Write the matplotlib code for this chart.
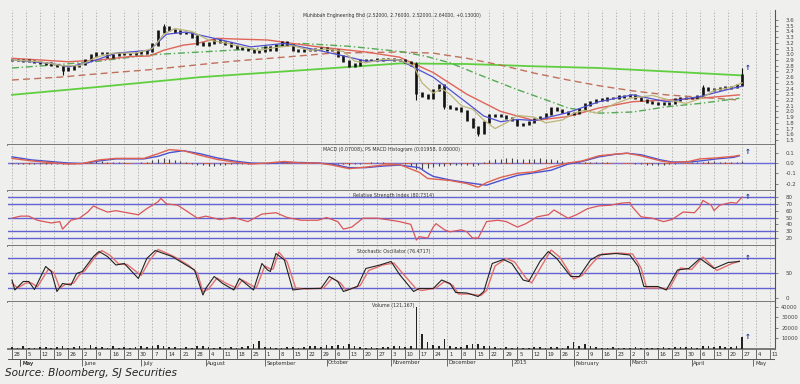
import numpy as np
import pandas as pd
import matplotlib.pyplot as plt

# ---- data (x = trading-day index from 28 Apr 2014) ----
bar_step = 2
closes = [2.90, 2.90, 2.89, 2.88, 2.87, 2.85, 2.84, 2.81, 2.80, 2.72,
          2.75, 2.79, 2.83, 2.90, 2.98, 3.02, 3.02, 2.95, 2.99, 3.02,
          3.01, 3.01, 3.02, 3.03, 3.06, 3.17, 3.40, 3.48, 3.43, 3.40,
          3.37, 3.37, 3.31, 3.19, 3.16, 3.20, 3.25, 3.22, 3.19, 3.14,
          3.11, 3.09, 3.07, 3.05, 3.06, 3.12, 3.07, 3.16, 3.21, 3.16,
          3.08, 3.06, 3.07, 3.08, 3.09, 3.10, 3.08, 3.07, 2.97, 2.88,
          2.80, 2.82, 2.90, 2.90, 2.90, 2.91, 2.92, 2.92, 2.90, 2.90,
          2.87, 2.82, 2.32, 2.28, 2.23, 2.38, 2.46, 2.10, 2.06, 2.05,
          2.01, 1.86, 1.73, 1.62, 1.81, 1.94, 1.93, 1.92, 1.89, 1.85,
          1.76, 1.78, 1.81, 1.87, 1.90, 1.95, 2.06, 2.03, 1.99, 1.95,
          1.97, 2.04, 2.12, 2.17, 2.20, 2.21, 2.23, 2.24, 2.26, 2.27,
          2.29, 2.24, 2.20, 2.17, 2.15, 2.14, 2.14, 2.15, 2.21, 2.23,
          2.23, 2.24, 2.27, 2.40, 2.38, 2.39, 2.41, 2.42, 2.43, 2.46,
          2.64]
spike_idx = [18, 54, 144, 154, 166, 246, 260]
spike_lo = [2.64, 3.40, 2.20, 2.04, 1.57, 2.28, 2.50]
spike_hi = [2.80, 3.53, 2.86, 2.40, 1.72, 2.47, 2.76]

volumes = [1500, 800, 2500, 1200, 900, 2000, 1500, 1000, 1800, 3000,
           1200, 1500, 2500, 1000, 3500, 2000, 1500, 1200, 2500, 1000,
           1800, 1200, 1500, 2500, 2000, 3000, 3500, 2500, 2000, 1500,
           1200, 1800, 1000, 2500, 3000, 1500, 1200, 2000, 1000, 1500,
           1200, 2200, 3000, 4500, 8000, 2000, 1500, 1000, 1200, 1800,
           1500, 1000, 2000, 2500, 3000, 1800, 3500, 2500, 4000, 3000,
           5000, 2500, 1500, 1000, 2000, 1200, 1500, 1800, 2500, 3000,
           1500, 3000, 40000, 14000, 7000, 4000, 3000, 9500, 3000, 1500,
           2000, 3500, 5000, 4300, 2500, 3000, 2000, 1200, 1500, 1000,
           1800, 1200, 1000, 1500, 2000, 1200, 2000, 1500, 1000, 3000,
           7000, 3000, 5000, 2500, 1500, 1000, 1200, 1800, 1000, 800,
           1200, 1500, 1000, 800, 1200, 1000, 1500, 1200, 1800, 1500,
           2000, 1500, 1000, 2500, 3000, 1500, 3000, 2000, 1500, 2500,
           11000]

hist = [-0.01, -0.01, -0.008, -0.005,
        -0.005, -0.005, -0.008, -0.01, -0.01, -0.012, -0.008, -0.005, -0.002,
        0.01, 0.015, 0.02, 0.015, 0.01,
        0.005, 0.005, 0.005, 0.004, 0.004, 0.005,
        0.01, 0.025, 0.04, 0.045, 0.04, 0.03,
        0.015, 0.005, -0.005,
        -0.015, -0.02, -0.025, -0.025, -0.02, -0.018, -0.012,
        -0.008, -0.006, -0.005, -0.004, -0.002, 0.004,
        0.008, 0.012, 0.012, 0.008,
        0.002, -0.002, -0.002, 0.0, 0.002, 0.001, -0.002,
        -0.006, -0.01, -0.012,
        -0.015, -0.012, -0.006,
        0.004, 0.006, 0.006, 0.005, 0.004, 0.002, 0.0,
        -0.01, -0.03, -0.055, -0.06, -0.05,
        -0.04, -0.03, -0.025, -0.022, -0.02, -0.018, -0.02, -0.025, -0.02,
        0.01, 0.025, 0.035, 0.04, 0.045, 0.045, 0.042, 0.04, 0.04, 0.042, 0.045, 0.04, 0.035, 0.025,
        0.015, 0.01, 0.008,
        0.01, 0.012, 0.012, 0.01, 0.008, 0.006,
        0.004, 0.002, 0.0, -0.002, -0.005,
        -0.012, -0.018, -0.02, -0.02, -0.018, -0.012,
        -0.005, 0.0, 0.003, 0.005, 0.008,
        0.012, 0.015, 0.015, 0.014, 0.012, 0.012, 0.014, 0.018]

tan_idx = [0, 10, 18, 24, 30, 36, 44, 50, 54, 58, 64, 70, 76, 82, 88, 94, 100, 106, 112, 118,
           122, 126, 132, 138, 143, 146, 150, 153, 156, 160, 164, 168, 172, 176, 180, 186, 190,
           196, 200, 204, 208, 214, 220, 228, 234, 240, 246, 250, 256, 260]
ma_tan = [2.90, 2.87, 2.80, 2.80, 2.95, 3.02, 3.02, 3.10, 3.35, 3.45, 3.40, 3.25, 3.20, 3.13,
          3.07, 3.12, 3.15, 3.07, 3.09, 3.05, 2.88, 2.85, 2.91, 2.90, 2.80, 2.50, 2.32, 2.40,
          2.30, 2.10, 2.04, 1.85, 1.70, 1.80, 1.93, 1.90, 1.80, 1.85, 1.97, 2.02, 1.97, 2.12,
          2.23, 2.28, 2.20, 2.14, 2.24, 2.37, 2.42, 2.50]
blue_idx = [0, 14, 20, 27, 37, 49, 55, 62, 72, 85, 97, 109, 120, 126, 138, 150, 162, 168,
            174, 180, 186, 198, 209, 221, 233, 245, 257, 260]
ma_blue = [2.90, 2.84, 2.78, 2.85, 3.02, 3.07, 3.35, 3.39, 3.28, 3.13, 3.19, 3.07, 2.95, 2.88,
           2.90, 2.60, 2.15, 1.92, 1.82, 1.86, 1.84, 1.98, 2.17, 2.29, 2.17, 2.26, 2.41, 2.44]
red_idx = [0, 20, 31, 42, 49, 54, 61, 66, 73, 78, 91, 109, 126, 138, 150, 162, 174, 186,
           198, 209, 221, 233, 245, 259]
ma_red = [2.93, 2.87, 2.90, 2.96, 2.97, 3.07, 3.16, 3.19, 3.28, 3.27, 3.25, 3.13, 3.04, 2.95,
          2.68, 2.30, 2.00, 1.84, 1.91, 2.06, 2.17, 2.20, 2.23, 2.29]
brown_idx = [0, 17, 31, 49, 67, 79, 97, 114, 138, 150, 162, 174, 186, 198, 209, 221, 233, 259]
ma_brown = [2.55, 2.60, 2.66, 2.73, 2.82, 2.88, 2.95, 3.02, 3.04, 3.02, 2.93, 2.81, 2.67,
            2.55, 2.45, 2.36, 2.29, 2.20]
gdash_idx = [0, 14, 31, 49, 67, 85, 103, 120, 138, 147, 156, 168, 180, 192, 198, 209, 221,
             233, 245, 259]
ma_gdash = [2.76, 2.81, 2.88, 2.99, 3.04, 3.09, 3.19, 3.14, 3.05, 2.97, 2.85, 2.61, 2.38,
            2.17, 2.06, 1.97, 1.99, 2.08, 2.14, 2.23]
green_idx = [0, 31, 67, 103, 138, 162, 186, 209, 233, 260]
ma_green = [2.29, 2.43, 2.60, 2.72, 2.84, 2.83, 2.79, 2.76, 2.70, 2.63]

macd_idx = [0, 7, 20, 25, 31, 37, 47, 52, 56, 61, 67, 73, 79, 85, 91, 97, 103, 109, 114, 120,
            126, 132, 138, 145, 148, 150, 156, 162, 166, 169, 174, 180, 186, 192, 198, 203,
            209, 215, 219, 224, 231, 235, 241, 245, 251, 257, 259]
macd = [0.045, 0.02, -0.01, -0.005, 0.03, 0.045, 0.045, 0.09, 0.13, 0.12, 0.075, 0.035, 0.01,
        -0.01, 0.0, 0.015, 0.0, 0.0, -0.02, -0.055, -0.04, -0.02, -0.015, -0.09, -0.15,
        -0.155, -0.17, -0.20, -0.235, -0.19, -0.14, -0.10, -0.085, -0.04, 0.0, 0.02, 0.07,
        0.087, 0.095, 0.07, 0.02, 0.005, 0.015, 0.04, 0.05, 0.065, 0.075]
signal = [0.06, 0.03, 0.0, -0.005, 0.02, 0.04, 0.04, 0.065, 0.10, 0.12, 0.09, 0.05, 0.02, 0.0,
          -0.005, 0.005, 0.005, 0.0, -0.01, -0.045, -0.045, -0.03, -0.02, -0.045, -0.10,
          -0.13, -0.165, -0.19, -0.205, -0.215, -0.17, -0.12, -0.095, -0.07, -0.01, 0.015,
          0.06, 0.085, 0.095, 0.08, 0.03, 0.01, 0.01, 0.02, 0.04, 0.055, 0.07]

rsi_idx = [0, 3, 6, 9, 14, 17, 18, 21, 24, 27, 29, 31, 34, 37, 41, 45, 48, 52, 53, 55, 59, 62,
           66, 69, 74, 79, 84, 89, 94, 98, 103, 109, 112, 116, 118, 121, 125, 130, 135, 138,
           142, 144, 145, 148, 150, 151, 154, 156, 160, 162, 164, 166, 169, 173, 176, 180,
           183, 187, 191, 193, 198, 201, 205, 209, 213, 217, 220, 221, 224, 228, 232, 235,
           239, 243, 245, 246, 249, 250, 252, 256, 258, 260]
rsi = [49, 52, 52, 46, 42, 44, 33, 46, 49, 58, 67, 63, 58, 60, 57, 54, 63, 73, 78, 70, 68, 60,
       49, 52, 47, 50, 44, 55, 57, 50, 46, 46, 50, 44, 33, 36, 49, 49, 46, 44, 40, 17, 22, 20,
       36, 41, 32, 29, 32, 29, 20, 20, 44, 46, 44, 36, 41, 51, 54, 61, 49, 54, 63, 67, 68, 71,
       72, 65, 51, 49, 44, 47, 58, 57, 66, 75, 68, 60, 68, 72, 71, 80]

stk_idx = [0, 1, 4, 6, 8, 12, 14, 16, 18, 21, 23, 25, 29, 31, 34, 37, 40, 45, 48, 51, 54, 57,
           62, 65, 68, 69, 72, 75, 79, 81, 86, 89, 91, 92, 94, 97, 100, 104, 110, 113, 116,
           118, 123, 126, 131, 135, 138, 143, 145, 150, 153, 156, 158, 162, 166, 168, 171,
           175, 178, 182, 184, 188, 191, 194, 199, 202, 206, 209, 215, 220, 223, 225, 230,
           233, 237, 241, 245, 250, 255, 259]
stoch_k = [36, 16, 33, 33, 17, 63, 53, 13, 29, 26, 49, 53, 83, 93, 83, 66, 69, 39, 79, 95, 89,
           83, 66, 56, 6, 19, 43, 29, 16, 39, 16, 69, 56, 53, 89, 76, 16, 19, 19, 43, 33, 13,
           23, 59, 66, 73, 47, 13, 19, 19, 36, 29, 11, 10, 3, 13, 69, 77, 69, 36, 33, 73, 93,
           79, 43, 43, 76, 86, 89, 86, 63, 23, 23, 16, 56, 59, 79, 59, 71, 73]
std_idx = [0, 2, 5, 7, 9, 13, 15, 17, 19, 22, 24, 26, 30, 32, 35, 38, 41, 46, 49, 52, 55, 58,
           63, 66, 68, 70, 73, 76, 80, 82, 87, 90, 92, 93, 95, 98, 101, 105, 111, 114, 117,
           119, 124, 127, 132, 136, 139, 144, 146, 151, 154, 157, 159, 163, 167, 169, 172,
           176, 179, 183, 185, 189, 192, 195, 200, 203, 207, 210, 216, 221, 224, 226, 231,
           234, 238, 242, 246, 251, 256, 259]
stoch_d = [30, 20, 30, 30, 22, 58, 50, 20, 27, 30, 46, 55, 85, 95, 85, 68, 67, 45, 75, 97, 90,
           82, 65, 50, 12, 18, 40, 30, 20, 36, 20, 64, 58, 58, 92, 72, 20, 18, 20, 40, 30, 15,
           25, 55, 66, 70, 50, 18, 15, 20, 33, 25, 8, 8, 5, 15, 64, 79, 72, 40, 30, 68, 96, 82,
           38, 45, 72, 88, 90, 88, 60, 20, 20, 18, 60, 57, 82, 55, 68, 74]

title = "Muhibbah Engineering Bhd (2.52000, 2.76000, 2.52000, 2.64000, +0.13000)"
macd_label = "MACD (0.07008), PS MACD Histogram (0.01958, 0.00000)"
rsi_label = "Relative Strength Index (80.7314)"
stoch_label = "Stochastic Oscillator (76.4717)"
vol_label = "Volume (121,167)"

# ---- layout ----
W, H = 800, 384
L, R = 8, 775
BG = '#efefed'
X0, X1 = -1.42, 271.7
days = pd.bdate_range('2014-04-28', periods=272)
mondays = np.where(days.dayofweek == 0)[0]

fig = plt.figure(figsize=(W / 100, H / 100), dpi=100, facecolor=BG)


def panel(top, bottom, ylim, pad=5, size=4):
    ax = fig.add_axes([L / W, 1 - bottom / H, (R - L) / W, (bottom - top) / H])
    ax.set_facecolor(BG)
    ax.set_xlim(X0, X1)
    ax.set_ylim(*ylim)
    ax.spines['top'].set_visible(False)
    ax.spines['left'].set_visible(False)
    ax.spines['bottom'].set_color('#707070')
    ax.spines['bottom'].set_linewidth(1.3)
    ax.spines['right'].set_color('#555555')
    ax.spines['right'].set_linewidth(0.8)
    ax.yaxis.tick_right()
    ax.tick_params(axis='y', labelsize=size, labelcolor='#444444', color='#555555',
                   length=2.5, width=0.5, pad=pad)
    ax.tick_params(axis='x', bottom=False, labelbottom=False)
    for m in mondays:
        ax.axvline(m, color='#aaaaaa', lw=0.55, ls=(0, (2, 2)), zorder=0)
    return ax


def arrow(ax, y):
    ax.text(262, y, '↑', color='#1f2a9a', fontsize=5, fontweight='bold',
            ha='center', va='center')


# price panel
ax = panel(10, 145, (1.4125, 3.775))
bar_x = np.arange(len(closes)) * bar_step
c = np.array(closes)
prev = np.r_[c[0], c[:-1]]
pad = 0.02
ax.vlines(bar_x, np.minimum(prev, c) - pad, np.maximum(prev, c) + pad, color='#111111', lw=1.9, zorder=3)
ax.vlines(spike_idx, spike_lo, spike_hi, color='#111111', lw=0.8, zorder=3)
ax.plot(green_idx, ma_green, color='#5fcf3f', lw=1.3, zorder=2)
ax.plot(brown_idx, ma_brown, color='#c0705c', lw=1.0, ls=(0, (5, 3)), zorder=2)
ax.plot(gdash_idx, ma_gdash, color='#55aa55', lw=1.0, ls=(0, (5, 2, 1, 2)), zorder=2)
ax.plot(red_idx, ma_red, color='#e06458', lw=1.0, zorder=2)
ax.plot(blue_idx, ma_blue, color='#5050d0', lw=0.9, zorder=4)
ax.plot(tan_idx, ma_tan, color='#bdb57a', lw=0.9, zorder=4)
ax.set_yticks(np.round(np.arange(1.5, 3.65, 0.1), 1))
ax.yaxis.set_major_formatter(plt.FormatStrFormatter('%.1f'))
arrow(ax, spike_hi[-1])
fig.text(303 / W, 1 - 15 / H, title, fontsize=3.3, color='#333333', va='center')

# MACD panel
ax = panel(145, 191, (-0.272, 0.175))
ax.axhline(0, color='#6a6ad8', lw=1.0, zorder=1)
ax.hlines(0, bar_x[0], bar_x[-1], color='#e07050', lw=0.8, ls=(0, (1, 1)), zorder=2)
ax.vlines(bar_x, 0, hist, color='#444444', lw=0.8, zorder=2)
ax.plot(macd_idx, signal, color='#4a52d0', lw=1.0, zorder=3)
ax.plot(macd_idx, macd, color='#e0604f', lw=1.0, zorder=4)
ax.set_yticks([0.1, 0.0, -0.1, -0.2])
ax.yaxis.set_major_formatter(plt.FormatStrFormatter('%.1f'))
arrow(ax, macd[-1] + 0.03)
fig.text(323 / W, 1 - 150 / H, macd_label, fontsize=3.4, color='#333333', va='center')

# RSI panel
ax = panel(191, 246, (8.3, 88.8))
for lvl in [80, 70, 50, 30, 20]:
    ax.axhline(lvl, color='#6262d4', lw=1.0, zorder=1)
ax.plot(rsi_idx, rsi, color='#d8555a', lw=0.9, zorder=3)
ax.set_yticks([80, 70, 60, 50, 40, 30, 20])
arrow(ax, rsi[-1])
fig.text(353 / W, 1 - 196 / H, rsi_label, fontsize=3.4, color='#333333', va='center')

# Stochastic panel
ax = panel(246, 302, (-8, 104))
for lvl in [80, 50, 20]:
    ax.axhline(lvl, color='#6262d4', lw=1.0, zorder=1)
ax.plot(std_idx, stoch_d, color='#e27070', lw=1.0, zorder=3)
ax.plot(stk_idx, stoch_k, color='#222222', lw=0.8, zorder=4)
ax.set_yticks([50, 0])
arrow(ax, 80)
fig.text(357 / W, 1 - 252 / H, stoch_label, fontsize=3.4, color='#333333', va='center')

# Volume panel
ax = panel(302, 349, (0, 44760), pad=2, size=3.7)
ax.bar(bar_x, volumes, width=0.6, color='#222222', zorder=3)
ax.set_yticks([10000, 20000, 30000, 40000])
arrow(ax, volumes[-1])
fig.text(372 / W, 1 - 306 / H, vol_label, fontsize=3.4, color='#333333', va='center')

# date strip
axd = fig.add_axes([L / W, 1 - 367 / H, (R - L) / W, 18 / H])
axd.set_facecolor(BG)
axd.set_xlim(X0, X1)
axd.set_ylim(0, 18)
axd.axis('off')
axd.axhline(8, color='#555555', lw=0.7)
axd.axvline(X1, ymin=0.4, color='#555555', lw=0.8)
for m in mondays:
    axd.vlines(m, 8, 18, color='#555555', lw=0.6)
    axd.text(m + 0.6, 13, str(days[m].day), fontsize=3.9, color='#333333', va='center', ha='left')
month_starts = [0] + [i for i in range(1, len(days)) if days[i].month != days[i - 1].month]
for i in month_starts:
    xi = i if i else 3
    name = '2015' if (days[xi].month == 1) else days[xi].strftime('%B')
    if days[xi].month == 5 and days[xi].year == 2014:
        name = 'May'
    axd.vlines(xi, 1, 8, color='#555555', lw=0.6)
    axd.text(xi + 0.6, 4, name, fontsize=3.9, color='#333333', va='center', ha='left')

fig.text(5 / W, 1 - 373 / H, 'Source: Bloomberg, SJ Securities', fontsize=7.6,
         style='italic', color='#222222', va='center')

fig.savefig('out.png', dpi=100, facecolor=BG)
